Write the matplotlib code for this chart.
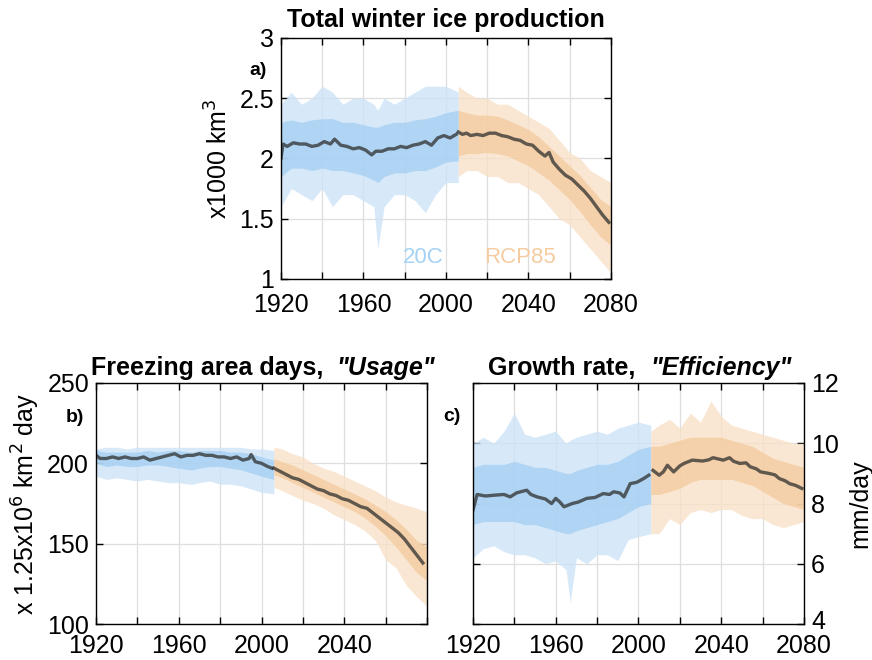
import matplotlib
matplotlib.use("Agg")
import matplotlib.pyplot as plt
import matplotlib.transforms as mtransforms

plt.rcParams['font.family'] = ['Liberation Sans', 'DejaVu Sans']

# grids on which the ensemble spread was read (20C and RCP85 parts)
yrs_20c = [1920, 1925, 1930, 1935, 1940, 1945, 1950, 1955, 1960, 1965, 1967,
           1970, 1975, 1980, 1985, 1990, 1995, 2000, 2006]
yrs_rcp = [2006, 2010, 2015, 2020, 2025, 2030, 2035, 2040, 2045, 2050, 2055,
           2060, 2065, 2070, 2075, 2080]

# ---- a) total winter ice production (x1000 km3)
a_hi_20c = [2.45, 2.55, 2.45, 2.5, 2.6, 2.55, 2.45, 2.5, 2.5, 2.45, 2.4, 2.5, 2.45, 2.5, 2.55, 2.6, 2.6, 2.6, 2.55]
a_lo_20c = [1.6, 1.75, 1.7, 1.65, 1.75, 1.6, 1.7, 1.7, 1.65, 1.6, 1.25, 1.6, 1.7, 1.7, 1.65, 1.55, 1.7, 1.8, 1.8]
a_chi_20c = [2.3, 2.32, 2.3, 2.32, 2.33, 2.33, 2.3, 2.3, 2.28, 2.26, 2.26, 2.28, 2.3, 2.3, 2.32, 2.33, 2.35, 2.38, 2.4]
a_clo_20c = [1.85, 1.92, 1.92, 1.9, 1.92, 1.9, 1.9, 1.88, 1.86, 1.82, 1.8, 1.85, 1.88, 1.88, 1.9, 1.9, 1.93, 1.97, 1.98]
a_hi_rcp = [2.6, 2.55, 2.5, 2.5, 2.45, 2.45, 2.4, 2.35, 2.3, 2.25, 2.15, 2.05, 2.0, 1.9, 1.85, 1.8]
a_lo_rcp = [1.85, 1.9, 1.9, 1.85, 1.85, 1.8, 1.8, 1.75, 1.7, 1.6, 1.5, 1.45, 1.35, 1.25, 1.15, 1.05]
a_chi_rcp = [2.4, 2.38, 2.36, 2.36, 2.35, 2.32, 2.28, 2.24, 2.18, 2.1, 2.02, 1.94, 1.86, 1.76, 1.66, 1.6]
a_clo_rcp = [2.02, 2.04, 2.04, 2.05, 2.04, 2.02, 1.98, 1.94, 1.88, 1.82, 1.74, 1.66, 1.56, 1.45, 1.35, 1.28]
a_mean_yrs_20c = [1920, 1921, 1923, 1926, 1929, 1932, 1935, 1938, 1941, 1944, 1946, 1949, 1952, 1955, 1958, 1961,
                  1964, 1966, 1969, 1972, 1975, 1978, 1981, 1984, 1987, 1990, 1993, 1996, 1999, 2002, 2005]
a_mean_20c = [2.0, 2.12, 2.10, 2.13, 2.12, 2.12, 2.10, 2.11, 2.14, 2.12, 2.16, 2.11, 2.10, 2.08, 2.09, 2.07,
              2.03, 2.06, 2.06, 2.08, 2.08, 2.10, 2.09, 2.11, 2.12, 2.14, 2.11, 2.17, 2.19, 2.17, 2.20]
a_mean_yrs_rcp = [2006, 2008, 2010, 2012, 2015, 2018, 2021, 2024, 2027, 2030, 2033, 2036, 2039, 2042, 2045,
                  2048, 2050, 2052, 2055, 2058, 2061, 2064, 2067, 2070, 2073, 2076, 2079]
a_mean_rcp = [2.22, 2.20, 2.21, 2.19, 2.20, 2.19, 2.21, 2.21, 2.19, 2.18, 2.16, 2.15, 2.12, 2.11, 2.06,
              2.02, 2.05, 1.97, 1.91, 1.86, 1.83, 1.78, 1.73, 1.67, 1.60, 1.53, 1.47]

# ---- b) freezing area days (x 1.25x10^6 km2 day)
b_hi_20c = [209, 210, 210, 209, 210, 210, 210, 210, 210, 210, 210, 210, 210, 210, 210, 210, 209, 209, 208]
b_lo_20c = [192, 190, 191, 190, 189, 190, 189, 188, 188, 187, 187, 188, 189, 187, 187, 186, 184, 182, 181]
b_chi_20c = [208, 207, 207, 207, 207, 208, 207, 208, 208, 207, 207, 208, 208, 208, 207, 207, 206, 204, 202]
b_clo_20c = [200, 198, 199, 198, 198, 199, 199, 198, 197, 196, 196, 197, 198, 198, 197, 196, 194, 192, 190]
b_hi_rcp = [210, 209, 206, 204, 200, 197, 195, 192, 189, 186, 183, 179, 176, 174, 172, 170]
b_lo_rcp = [185, 183, 180, 177, 175, 172, 168, 165, 162, 158, 152, 140, 135, 124, 117, 111]
b_chi_rcp = [203, 201, 199, 196, 193, 190, 187, 184, 181, 178, 174, 170, 165, 159, 152, 148]
b_clo_rcp = [193, 191, 188, 185, 182, 179, 176, 173, 170, 166, 161, 155, 148, 140, 132, 127]
b_mean_yrs_20c = [1920, 1922, 1925, 1928, 1931, 1934, 1937, 1940, 1943, 1946, 1949, 1952, 1955, 1958, 1961,
                  1964, 1967, 1970, 1973, 1976, 1979, 1982, 1985, 1988, 1991, 1994, 1995, 1997, 2000, 2003, 2005]
b_mean_20c = [205, 203, 203, 204, 203, 204, 203, 203, 204, 202, 203, 204, 205, 206, 204,
              205, 205, 206, 205, 205, 204, 204, 203, 204, 202, 203, 205.5, 201, 200, 198, 197]
b_mean_yrs_rcp = [2006, 2009, 2012, 2015, 2018, 2021, 2024, 2027, 2030, 2033, 2036, 2039, 2042, 2045, 2048,
                  2051, 2054, 2057, 2060, 2063, 2066, 2069, 2072, 2075, 2078]
b_mean_rcp = [197, 195, 193, 191, 190, 188, 186, 184, 183, 181, 180, 178, 177, 175, 173,
              172, 169, 166, 163, 160, 157, 153, 148, 143, 138]

# ---- c) growth rate (mm/day)
c_hi_20c = [10.0, 10.2, 10.0, 10.4, 11.0, 10.3, 10.2, 10.3, 10.4, 10.0, 10.1, 10.2, 10.3, 10.4, 10.3, 10.5, 10.6, 10.7, 10.6]
c_lo_20c = [6.2, 6.5, 6.6, 6.4, 6.3, 6.3, 6.2, 6.0, 6.1, 5.8, 4.7, 6.2, 6.0, 6.3, 6.3, 6.1, 6.8, 6.9, 7.0]
c_chi_20c = [9.2, 9.3, 9.3, 9.3, 9.4, 9.3, 9.2, 9.2, 9.1, 9.0, 9.0, 9.1, 9.2, 9.3, 9.3, 9.4, 9.6, 9.8, 9.9]
c_clo_20c = [7.3, 7.4, 7.4, 7.4, 7.4, 7.3, 7.3, 7.2, 7.1, 7.0, 7.0, 7.1, 7.2, 7.3, 7.4, 7.5, 7.7, 7.9, 8.0]
c_hi_rcp = [10.4, 10.6, 10.8, 10.5, 11.0, 10.7, 11.4, 10.9, 10.6, 10.5, 10.4, 10.3, 10.2, 10.1, 10.0, 10.0]
c_lo_rcp = [7.0, 7.0, 7.5, 7.3, 7.7, 7.8, 7.7, 7.8, 7.8, 7.6, 7.5, 7.5, 7.3, 7.2, 7.3, 7.4]
c_chi_rcp = [9.9, 9.9, 10.0, 10.1, 10.2, 10.2, 10.2, 10.2, 10.1, 10.0, 9.9, 9.7, 9.5, 9.4, 9.3, 9.2]
c_clo_rcp = [8.3, 8.3, 8.4, 8.5, 8.7, 8.8, 8.8, 8.8, 8.8, 8.7, 8.6, 8.4, 8.2, 8.0, 7.9, 7.8]
c_mean_yrs_20c = [1920, 1922, 1926, 1931, 1935, 1938, 1941, 1943, 1946, 1948, 1951, 1955, 1958, 1960, 1962,
                  1964, 1968, 1971, 1975, 1979, 1983, 1986, 1988, 1991, 1993, 1996, 1999, 2001, 2003, 2005]
c_mean_20c = [7.78, 8.3, 8.25, 8.28, 8.3, 8.22, 8.35, 8.39, 8.44, 8.3, 8.22, 8.15, 8.0, 8.17, 8.05,
              7.89, 8.0, 8.05, 8.17, 8.2, 8.33, 8.3, 8.39, 8.35, 8.22, 8.66, 8.7, 8.77, 8.85, 8.94]
c_mean_yrs_rcp = [2007, 2010, 2012, 2014, 2017, 2020, 2022, 2026, 2031, 2034, 2036, 2041, 2044, 2046, 2049,
                  2052, 2054, 2057, 2059, 2063, 2066, 2068, 2071, 2073, 2076, 2079]
c_mean_rcp = [9.1, 8.94, 9.05, 9.27, 9.05, 9.25, 9.33, 9.44, 9.41, 9.45, 9.52, 9.44, 9.52, 9.4, 9.33,
              9.35, 9.22, 9.15, 9.05, 9.0, 8.95, 8.83, 8.75, 8.66, 8.6, 8.5]

BLUE_OUT, BLUE_IN = '#cde4f8', '#a3cdf1'
ORNG_OUT, ORNG_IN = '#f9e1c8', '#f3ca9d'
MEAN_C = '#2e2e2e'
FS = 18


def draw_panel(ax, hi20, lo20, chi20, clo20, hircp, lorcp, chircp, clorcp,
               myrs20, m20, myrsrcp, mrcp, xpad=10):
    ax.fill_between(yrs_20c, lo20, hi20, color=BLUE_OUT, alpha=0.8, lw=0)
    ax.fill_between(yrs_20c, clo20, chi20, color=BLUE_IN, alpha=0.75, lw=0)
    ax.fill_between(yrs_rcp, lorcp, hircp, color=ORNG_OUT, alpha=0.8, lw=0)
    ax.fill_between(yrs_rcp, clorcp, chircp, color=ORNG_IN, alpha=0.75, lw=0)
    ax.plot(myrs20, m20, color=MEAN_C, lw=2.4, alpha=0.75)
    ax.plot(myrsrcp, mrcp, color=MEAN_C, lw=2.4, alpha=0.75)
    ax.set_xlim(1920, 2080)
    xt = list(range(1920, 2081, 20))
    ax.set_xticks(xt)
    ax.set_xticklabels([str(t) if (t - 1920) % 40 == 0 else '' for t in xt])
    ax.grid(True, color='#dedede', lw=0.9)
    ax.set_axisbelow(True)
    ax.tick_params(direction='in', top=True, right=True, length=5, width=1,
                   labelsize=FS)
    ax.tick_params(axis='x', pad=xpad)
    ax.tick_params(axis='y', pad=5)
    for s in ax.spines.values():
        s.set_linewidth(1.0)


fig = plt.figure(figsize=(8.72, 6.6), dpi=100)

# a)
ax_a = fig.add_axes([0.3222, 0.5773, 0.3784, 0.3652])
draw_panel(ax_a, a_hi_20c, a_lo_20c, a_chi_20c, a_clo_20c, a_hi_rcp, a_lo_rcp, a_chi_rcp, a_clo_rcp,
           a_mean_yrs_20c, a_mean_20c, a_mean_yrs_rcp, a_mean_rcp)
ax_a.set_ylim(1, 3)
ax_a.set_yticks([1, 1.5, 2, 2.5, 3])
ax_a.set_yticklabels(['1', '1.5', '2', '2.5', '3'])
ax_a.set_ylabel('x1000 km$^3$', fontsize=FS)
ax_a.yaxis.set_label_coords(-0.148, 0.5)
ax_a.set_title('Total winter ice production', fontsize=18, fontweight='bold', pad=8)
ax_a.text(-0.07, 0.867, 'a)', transform=ax_a.transAxes, fontsize=14, fontweight='bold',
          ha='center', va='center')
ax_a.text(0.43, 0.09, '20C', transform=ax_a.transAxes, fontsize=16, color='#a3d2f5',
          ha='center', va='center')
ax_a.text(0.724, 0.09, 'RCP85', transform=ax_a.transAxes, fontsize=16, color='#f5cca0',
          ha='center', va='center')

# b)
ax_b = fig.add_axes([0.1101, 0.0545, 0.3796, 0.3652])
draw_panel(ax_b, b_hi_20c, b_lo_20c, b_chi_20c, b_clo_20c, b_hi_rcp, b_lo_rcp, b_chi_rcp, b_clo_rcp,
           b_mean_yrs_20c, b_mean_20c, b_mean_yrs_rcp, b_mean_rcp, xpad=7)
ax_b.set_ylim(100, 250)
ax_b.set_yticks([100, 150, 200, 250])
ax_b.set_xticklabels(['1920', '', '1960', '', '2000', '', '2040', '', ''])
ax_b.set_ylabel('x 1.25x10$^6$ km$^2$ day', fontsize=FS)
ax_b.yaxis.set_label_coords(-0.163, 0.5)
ax_b.text(-0.063, 0.855, 'b)', transform=ax_b.transAxes, fontsize=14, fontweight='bold',
          ha='center', va='center')
tb = ax_b.text(-0.015, 1.035, 'Freezing area days,', transform=ax_b.transAxes, fontsize=18,
               fontweight='bold', ha='left', va='baseline')
ax_b.annotate('"Usage"', xy=(1, 0), xycoords=tb, xytext=(9, 0), textcoords='offset points',
              fontsize=18, fontweight='bold', fontstyle='italic', ha='left', va='bottom')

# c)
ax_c = fig.add_axes([0.5424, 0.0545, 0.3796, 0.3652])
draw_panel(ax_c, c_hi_20c, c_lo_20c, c_chi_20c, c_clo_20c, c_hi_rcp, c_lo_rcp, c_chi_rcp, c_clo_rcp,
           c_mean_yrs_20c, c_mean_20c, c_mean_yrs_rcp, c_mean_rcp, xpad=7)
ax_c.set_ylim(4, 12)
ax_c.set_yticks([4, 6, 8, 10, 12])
ax_c.yaxis.tick_right()
ax_c.tick_params(left=True, labelleft=False, labelright=True)
ax_c.yaxis.set_label_position('right')
ax_c.set_ylabel('mm/day', fontsize=FS)
ax_c.yaxis.set_label_coords(1.135, 0.5)
ax_c.text(-0.063, 0.86, 'c)', transform=ax_c.transAxes, fontsize=14, fontweight='bold',
          ha='center', va='center')
tc = ax_c.text(0.045, 1.035, 'Growth rate,', transform=ax_c.transAxes, fontsize=18,
               fontweight='bold', ha='left', va='baseline')
ax_c.annotate('"Efficiency"', xy=(1, 0), xycoords=tc, xytext=(11, 0), textcoords='offset points',
              fontsize=18, fontweight='bold', fontstyle='italic', ha='left', va='bottom')
# nudge the lowest right-hand label up a little so it clears "2080"
lab4 = ax_c.yaxis.get_major_ticks()[0].label2
lab4.set_transform(lab4.get_transform() + mtransforms.ScaledTranslation(0, 3 / 72, fig.dpi_scale_trans))

fig.savefig('out.png', dpi=100)
